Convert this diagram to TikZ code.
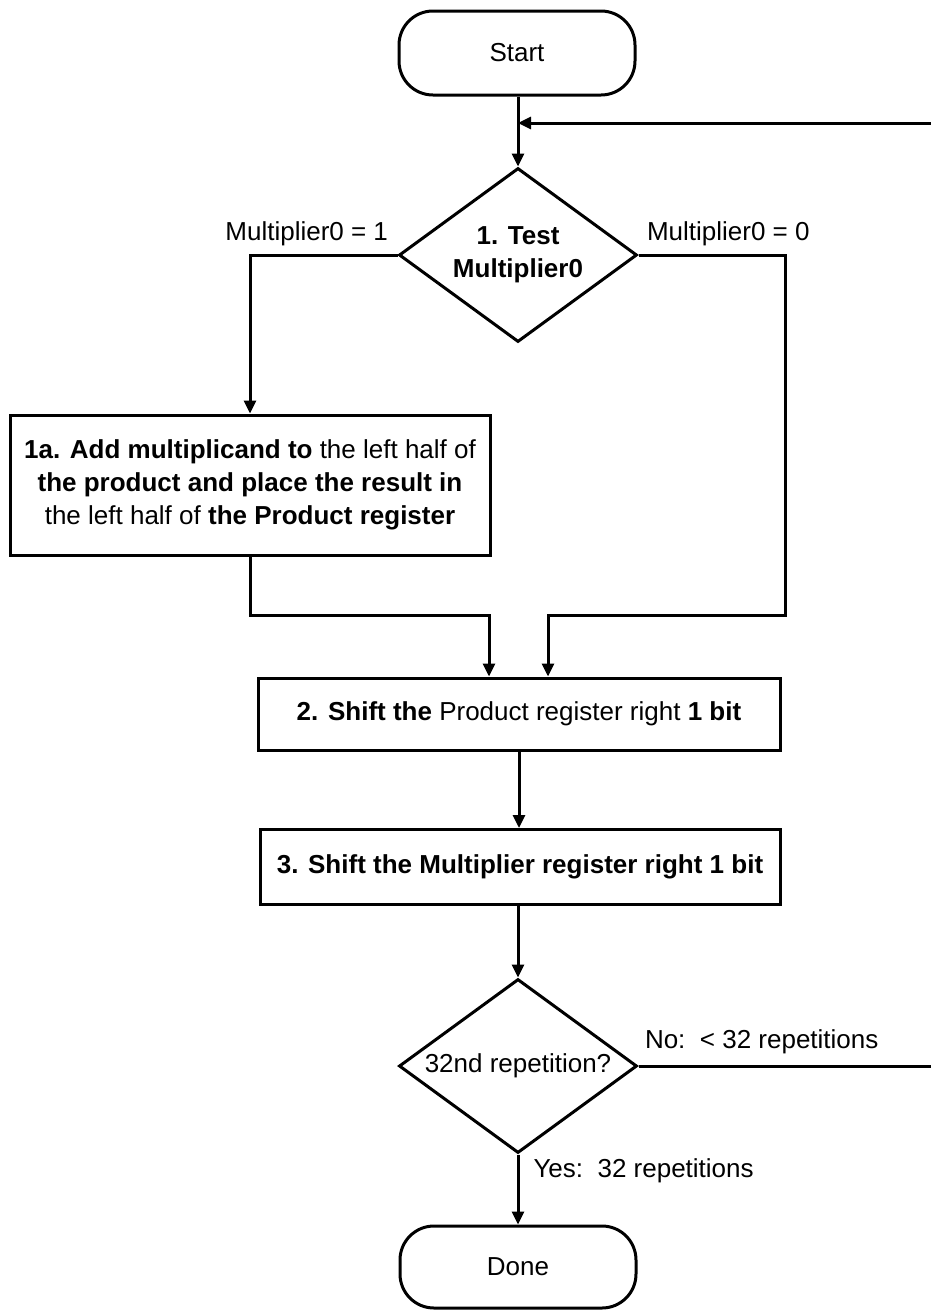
\documentclass[tikz,border=0pt]{standalone}
\usepackage{fontspec}
\setmainfont{Liberation Sans}
\usetikzlibrary{shapes.geometric,arrows.meta}
\begin{document}
\begin{tikzpicture}[x=1pt,y=-1pt,line width=3pt,
  font=\fontsize{26}{33}\selectfont,
  >={Triangle[length=13pt,width=12pt]},
  term/.style={draw,rectangle,rounded corners=34pt,minimum width=236pt,minimum height=84pt,inner sep=0pt},
  proc/.style={draw,rectangle,minimum width=#1,minimum height=74pt,inner sep=0pt,align=center},
  dec/.style={draw,diamond,aspect=1.35,minimum width=#1,minimum height=174pt,inner sep=0pt,align=center},
  lbl/.style={inner sep=0pt},
  conn/.style={->}]
\useasboundingbox (0,0) rectangle (930,1310);
\node[term] (start) at (517,53) {Start};
\node[dec=238pt] (d1) at (518,255) {\textbf{1. Test}\\\textbf{Multiplier0}};
\node[proc=480pt,minimum height=140pt] (b1a) at (250,485) {\textbf{1a. Add multiplicand to} the left half of\\\textbf{the product and place the result in}\\the left half of \textbf{the Product register}};
\node[proc=522pt,minimum height=72pt] (b2) at (519,714) {\textbf{2. Shift the} Product register right \textbf{1 bit}};
\node[proc=520pt,minimum height=75pt] (b3) at (520,867) {\textbf{3. Shift the Multiplier register right 1 bit}};
\node[dec=238pt] (d2) at (518,1066) {32nd repetition?};
\node[term,minimum height=82pt] (done) at (518,1267) {Done};
\coordinate (merge) at (518,123);
\coordinate (jl) at (489,615);
\coordinate (jr) at (548,615);
\coordinate (rr) at (785,255);
\coordinate (loopd) at (940,1066);
\coordinate (loopu) at (940,123);
% connectors
\draw[conn] (start.south -| d1.north) -- (d1.north);
\draw[conn] (d1.west) -| (b1a.north);
\draw[conn] (b1a.south) |- (jl) -- (jl |- b2.north);
\draw[conn] (d1.east) -- (rr) |- (jr) -- (jr |- b2.north);
\draw[conn] (b2.south) -- (b2.south |- b3.north);
\draw[conn] (b3.south -| d2.north) -- (d2.north);
\draw[conn] (d2.south) -- (done.north);
\draw[conn] (d2.east) -- (loopd) -- (loopu) -- (merge);
% labels
\node[lbl,anchor=south east] (l1) at ([xshift=-8pt,yshift=8pt]d1.west) {Multiplier0 = 1};
\node[lbl,anchor=south west] (l0) at ([xshift=7pt,yshift=8pt]d1.east) {Multiplier0 = 0};
\node[lbl,anchor=south west] (lno) at ([xshift=5pt,yshift=11pt]d2.east) {No:\ \ < 32 repetitions};
\node[lbl,anchor=north west] (lyes) at ([xshift=14pt,yshift=-3pt]d2.south) {Yes:\ \ 32 repetitions};
\end{tikzpicture}
\end{document}
